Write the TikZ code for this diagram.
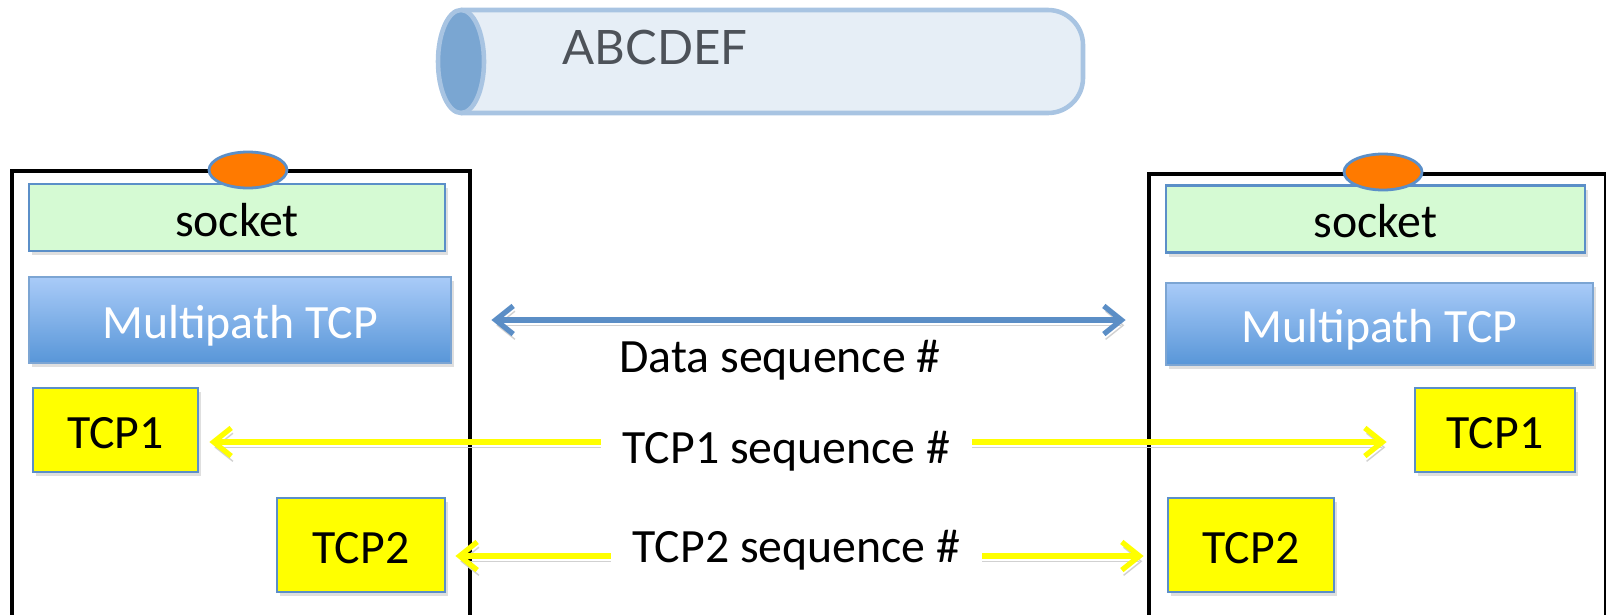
\documentclass[tikz,border=0pt]{standalone}
\usepackage{fontspec}
\setmainfont{Carlito}
\newfontfamily\pipefont{Lato}
\usetikzlibrary{arrows.meta,shapes.geometric,calc,shadows}

\definecolor{sockfill}{HTML}{D5FAD3}
\definecolor{boxedge}{HTML}{5B8FC8}
\definecolor{mptop}{HTML}{A9CBF8}
\definecolor{mpbot}{HTML}{5896D8}
\definecolor{tcpyellow}{HTML}{FFFF00}
\definecolor{portorange}{HTML}{FF7A00}
\definecolor{pipefill}{HTML}{E6EEF6}
\definecolor{pipeedge}{HTML}{A8C4E2}
\definecolor{pipeend}{HTML}{7AA6D2}
\definecolor{dseqblue}{HTML}{5B8EC6}
\definecolor{pipetext}{HTML}{4D5259}

\begin{document}
\begin{tikzpicture}[
    font=\fontsize{13.6}{16}\selectfont,
    boxshadow/.style={drop shadow={opacity=0.25, shadow xshift=0.03cm, shadow yshift=-0.04cm}},
    stackbox/.style={line width=0.8pt, boxshadow, inner ysep=0pt, text height=11pt, text depth=0.2pt},
    sockbox/.style={stackbox, draw=boxedge, fill=sockfill, minimum width=4.16cm, minimum height=0.67cm},
    mpbox/.style={stackbox, draw=boxedge!80, top color=mptop, bottom color=mpbot, text=white, minimum height=0.86cm},
    tcpbox/.style={stackbox, draw=boxedge, fill=tcpyellow, minimum height=0.84cm},
    port/.style={ellipse, draw=boxedge, fill=portorange, line width=0.8pt, minimum width=0.78cm, minimum height=0.36cm, inner sep=0pt},
    host/.style={draw=black, line width=1.1pt, anchor=north west, minimum height=4.7cm},
    seqarrow/.style={line width=1.5pt, {Straight Barb[length=5pt,width=8pt]}-{Straight Barb[length=5pt,width=8pt]},
        preaction={draw=black!18, transform canvas={xshift=0.5pt, yshift=-1.5pt}}},
    seqlabel/.style={fill=white, inner xsep=0.22cm, inner ysep=2pt}
]
    \useasboundingbox (0,0) rectangle (16.06,6.14);

    % Message pipe
    \filldraw[fill=pipefill, draw=pipeedge, line width=1.3pt, rounded corners=0.35cm]
        (4.61,6.04) -- (10.83,6.04) -- (10.83,5.01) -- (4.61,5.01);
    \filldraw[fill=pipeend, draw=pipeedge, line width=1.3pt] (4.61,5.525) ellipse (0.23 and 0.515);
    \node[font=\pipefont\fontsize{13.5}{16}\selectfont, text=pipetext] (msg) at (6.55,5.66) {ABCDEF};

    % Hosts
    \node[host, minimum width=4.58cm] (hostL) at (0.10,4.45) {};
    \node[host, minimum width=4.57cm] (hostR) at (11.47,4.42) {};

    % Left stack
    \node[sockbox] (sockL) at (2.37,3.965) {socket};
    \node[mpbox, minimum width=4.22cm] (mpL) at (2.40,2.94) {Multipath TCP};
    \node[tcpbox, minimum width=1.65cm] (tcp1L) at (1.155,1.84) {TCP1};
    \node[tcpbox, minimum width=1.68cm, minimum height=0.94cm] (tcp2L) at (3.61,0.69) {TCP2};
    \node[port] (portL) at (2.48,4.44) {};

    % Right stack
    \node[sockbox, minimum width=4.19cm] (sockR) at (13.755,3.95) {socket};
    \node[mpbox, minimum width=4.27cm, minimum height=0.82cm] (mpR) at (13.795,2.90) {Multipath TCP};
    \node[tcpbox, minimum width=1.60cm] (tcp1R) at (14.95,1.84) {TCP1};
    \node[tcpbox, minimum width=1.66cm, minimum height=0.94cm] (tcp2R) at (12.51,0.69) {TCP2};
    \node[port] (portR) at (13.83,4.42) {};

    % Data sequence
    \draw[seqarrow, dseqblue, shorten <=0.39cm, shorten >=0.39cm] (mpL.east) -- (mpL.east -| mpR.west);
    \node (dseq) at (7.80,2.54) {Data sequence \#};

    % Subflow sequences
    \draw[seqarrow, tcpyellow, shorten <=0.10cm, shorten >=0.27cm]
        ($(tcp1L.east)+(0,-0.12)$) -- ($(tcp1R.west)+(0,-0.12)$);
    \node[seqlabel] (seq1) at (7.865,1.63) {TCP1 sequence \#};

    \draw[seqarrow, tcpyellow, shorten <=0.09cm, shorten >=0.23cm]
        ($(tcp2L.east)+(0,-0.11)$) -- ($(tcp2R.west)+(0,-0.11)$);
    \node[seqlabel] (seq2) at (7.965,0.64) {TCP2 sequence \#};
\end{tikzpicture}
\end{document}
